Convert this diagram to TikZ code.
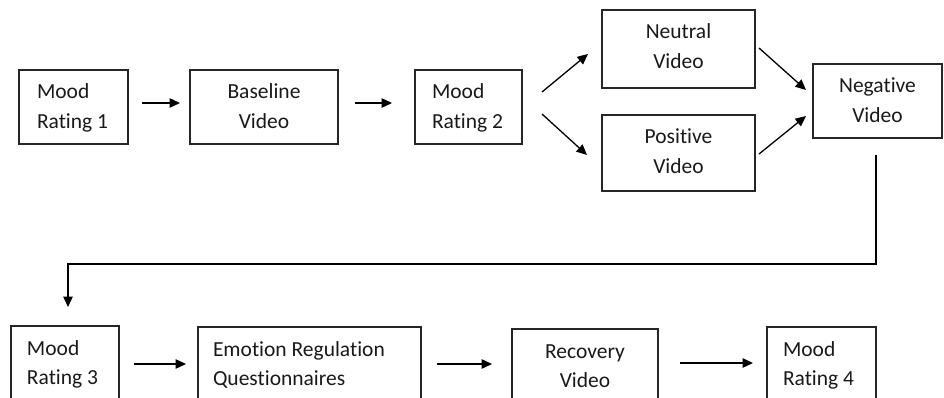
\documentclass[tikz,border=0pt]{standalone}
\usepackage{fontspec}
\setmainfont[Ligatures=NoCommon]{Carlito}
\usetikzlibrary{arrows.meta,calc}

% box contents, text set from the top: width, height, [left padding,] text
\newcommand{\lbox}[4]{\parbox[c][#2][t]{#1}{\raggedright\leftskip=#3\rule{0pt}{29pt}#4}}
\newcommand{\cbox}[3]{\parbox[c][#2][t]{#1}{\centering\rule{0pt}{29pt}#3}}

\tikzset{
  stepbox/.style={draw=black!85, line width=1.1pt, rectangle, inner sep=0pt, outer sep=0pt,
    text=black!90, font=\fontsize{21.5}{29.5}\selectfont},
  arr/.style={draw=black, line width=1.3pt, -{Triangle[length=10.5pt,width=9.5pt]}}
}

\begin{document}
\begin{tikzpicture}[x=1pt,y=-1pt]
\useasboundingbox (0,0) rectangle (944,398);
\clip (0,0) rectangle (944,398);

% first row
\node[stepbox] (mr1) at (73.5,107) {\lbox{109pt}{74pt}{18pt}{Mood\\Rating 1}};
\node[stepbox] (base) at (264,107) {\cbox{148pt}{74pt}{Baseline\\Video}};
\node[stepbox] (mr2) at (468.5,107) {\lbox{107pt}{74pt}{17pt}{Mood\\Rating 2}};
\node[stepbox] (neu) at (678.5,49) {\cbox{153pt}{78pt}{Neutral\\Video}};
\node[stepbox] (pos) at (678.5,153) {\cbox{153pt}{76pt}{Positive\\Video}};
\node[stepbox] (neg) at (877.5,101) {\cbox{129pt}{74pt}{Negative\\Video}};

% second row
\node[stepbox] (mr3) at (65,363) {\lbox{108pt}{74pt}{16pt}{Mood\\Rating 3}};
\node[stepbox] (er) at (309.5,364) {\lbox{223pt}{74pt}{15pt}{Emotion Regulation\\Questionnaires}};
\node[stepbox] (rec) at (585,366) {\cbox{146pt}{74pt}{Recovery\\Video}};
\node[stepbox] (mr4) at (821.5,364) {\lbox{109pt}{74pt}{16pt}{Mood\\Rating 4}};

% connectors, first row
\draw[arr, shorten <=14pt, shorten >=10pt] ([yshift=4pt]mr1.east) -- ([yshift=4pt]base.west);
\draw[arr, shorten <=17pt, shorten >=23pt] ([yshift=4pt]base.east) -- ([yshift=4pt]mr2.west);
\draw[arr] ($(mr2.east)+(20,-15)$) -- ($(neu.west)+(-14,5)$);
\draw[arr] ($(mr2.east)+(20,7)$) -- ($(pos.west)+(-15,2)$);
\draw[arr] ($(neu.east)+(4,-1)$) -- ($(neg.west)+(-7,-11)$);
\draw[arr] ($(pos.east)+(4,1)$) -- ($(neg.west)+(-7,15)$);

% return line to the second row
\draw[arr, shorten <=17pt, shorten >=19pt] ([xshift=-1.5pt]neg.south) -- ++(0,126) -| ([xshift=3pt]mr3.north);

% connectors, second row
\draw[arr, shorten <=15pt, shorten >=12pt] ([yshift=-1pt]mr3.east) -- (er.west);
\draw[arr, shorten <=16pt, shorten >=20pt] (er.east) -- ([yshift=2pt]rec.west);
\draw[arr, shorten <=22pt, shorten >=14pt] ([yshift=3pt]rec.east) -- ([yshift=1pt]mr4.west);
\end{tikzpicture}
\end{document}
